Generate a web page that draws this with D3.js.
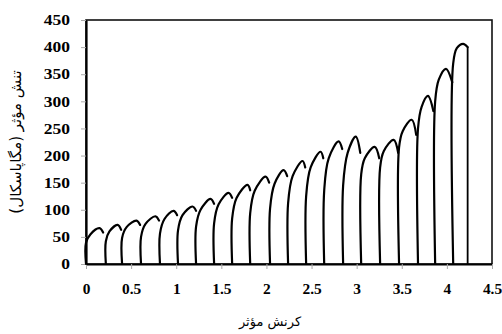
<!DOCTYPE html>
<html>
<head>
<meta charset="utf-8">
<script src="https://cdn.jsdelivr.net/npm/d3@7"></script>
<style>
  html, body { margin: 0; padding: 0; background: #fff; }
  svg { display: block; }
</style>
</head>
<body>
<svg id="chart" width="502" height="334"></svg>
<script>
// ---- data ----
const xTicks = [0, 0.5, 1, 1.5, 2, 2.5, 3, 3.5, 4, 4.5];
const xTickLabels = ["0", "0.5", "1", "1.5", "2", "2.5", "3", "3.5", "4", "4.5"];
const yTicks = [0, 50, 100, 150, 200, 250, 300, 350, 400, 450];
const yTickLabels = ["0", "50", "100", "150", "200", "250", "300", "350", "400", "450"];
const xTitle = "کرنش مؤثر";
const yTitle = "تنش مؤثر (مگاپاسکال)";

// one entry per loading cycle
const cycleStart     = [0.00, 0.22, 0.40, 0.61, 0.82, 1.02, 1.22, 1.42, 1.62, 1.82, 2.04, 2.24, 2.44, 2.64, 2.85, 3.05, 3.26, 3.47, 3.68, 3.87, 4.07];
const kneeStress     = [39, 42, 48, 50, 56, 62, 69, 75, 84, 94, 102, 112, 125, 135, 145, 165, 178, 215, 250, 300, 370];
const shoulderStrain = [0.05, 0.26, 0.45, 0.66, 0.87, 1.07, 1.27, 1.47, 1.67, 1.87, 2.09, 2.29, 2.49, 2.69, 2.90, 3.09, 3.30, 3.51, 3.72, 3.91, 4.11];
const shoulderStress = [55, 60, 68, 74, 83, 90, 100, 110, 122, 135, 148, 162, 178, 195, 205, 195, 208, 245, 290, 340, 398];
const peakStrain     = [0.15, 0.35, 0.56, 0.77, 0.97, 1.18, 1.38, 1.58, 1.79, 1.99, 2.19, 2.40, 2.60, 2.80, 2.99, 3.20, 3.41, 3.61, 3.79, 3.99, 4.18];
const peakStress     = [66, 72, 80, 88, 98, 106, 120, 131, 146, 161, 173, 190, 207, 226, 235, 216, 229, 266, 310, 360, 406];
const endStrain      = [0.19, 0.39, 0.60, 0.81, 1.01, 1.22, 1.42, 1.62, 1.82, 2.03, 2.23, 2.43, 2.63, 2.84, 3.04, 3.25, 3.46, 3.66, 3.85, 4.06, 4.23];
const endStress      = [58, 63, 72, 80, 90, 98, 111, 122, 136, 150, 162, 178, 195, 212, 205, 195, 205, 238, 282, 335, 400];
const finalUnloadStrain = [4.23];
const finalUnloadStress = [0];

// ---- layout ----
const svg = d3.select("#chart");
const L = 86, R = 492, T = 20, B = 264;
const x = d3.scaleLinear().domain([0, 4.5]).range([L, R]);
const y = d3.scaleLinear().domain([0, 450]).range([B, T]);

// frame (top/right)
svg.append("rect")
  .attr("x", L).attr("y", T).attr("width", R - L).attr("height", B - T)
  .attr("fill", "none").attr("stroke", "#111").attr("stroke-width", 1.6);

// axes
const fontNum = "'Liberation Serif', 'Times New Roman', serif";
const xAxis = d3.axisBottom(x).tickValues(xTicks)
  .tickFormat((d, i) => xTickLabels[i]).tickSize(5).tickSizeOuter(0);
const gx = svg.append("g").attr("transform", `translate(0,${B})`).call(xAxis);
gx.select(".domain").attr("stroke", "#000").attr("stroke-width", 2.2);
gx.selectAll(".tick line").attr("stroke", "#aaa").attr("stroke-width", 1);
gx.selectAll(".tick text")
  .attr("y", 20).attr("dy", "0.71em")
  .attr("fill", "#000")
  .style("font-family", fontNum).style("font-weight", "bold").style("font-size", "14px")
  .attr("transform", "scale(1.1,1)");

const yAxis = d3.axisLeft(y).tickValues(yTicks)
  .tickFormat((d, i) => yTickLabels[i]).tickSize(5).tickSizeOuter(0);
const gy = svg.append("g").attr("transform", `translate(${L},0)`).call(yAxis);
gy.select(".domain").attr("stroke", "#000").attr("stroke-width", 2.2);
gy.selectAll(".tick line").attr("stroke", "#aaa").attr("stroke-width", 1);
gy.selectAll(".tick text")
  .attr("x", -16 / 1.25).attr("dy", "0.34em")
  .attr("fill", "#000")
  .style("font-family", fontNum).style("font-weight", "bold").style("font-size", "14px")
  .attr("transform", "scale(1.25,1)");

// cycles
const arc = d3.line()
  .x(d => x(d[0])).y(d => y(d[1]))
  .curve(d3.curveCatmullRom.alpha(0.5));
const straight = d3.line().x(d => x(d[0])).y(d => y(d[1]));

const cycles = cycleStart.map((s, i) => ({
  pts: [[s, 0], [s, kneeStress[i]], [shoulderStrain[i], shoulderStress[i]],
        [peakStrain[i], peakStress[i]], [endStrain[i], endStress[i]]]
}));

const gc = svg.append("g").attr("fill", "none").attr("stroke", "#000")
  .attr("stroke-linejoin", "round").attr("stroke-linecap", "round");

gc.selectAll("path.arc").data(cycles).join("path")
  .attr("class", "arc")
  .attr("d", d => arc(d.pts))
  .attr("stroke-width", 2.2);
// final unloading line of last cycle
const last = cycles.length - 1;
gc.append("path")
  .attr("d", straight([[endStrain[last], endStress[last]], [finalUnloadStrain[0], finalUnloadStress[0]]]))
  .attr("stroke-width", 1.8);

// titles
const fontAr = "'DejaVu Sans', 'Noto Sans', sans-serif";
svg.append("text")
  .attr("x", 270).attr("y", 326)
  .attr("text-anchor", "middle")
  .attr("direction", "rtl")
  .style("font-family", fontAr).style("font-size", "13px")
  .text(xTitle);
svg.append("text")
  .attr("transform", `translate(21,${(T + B) / 2}) rotate(-90)`)
  .attr("text-anchor", "middle")
  .attr("direction", "rtl")
  .style("font-family", fontAr).style("font-size", "15px")
  .text(yTitle);
</script>
</body>
</html>
